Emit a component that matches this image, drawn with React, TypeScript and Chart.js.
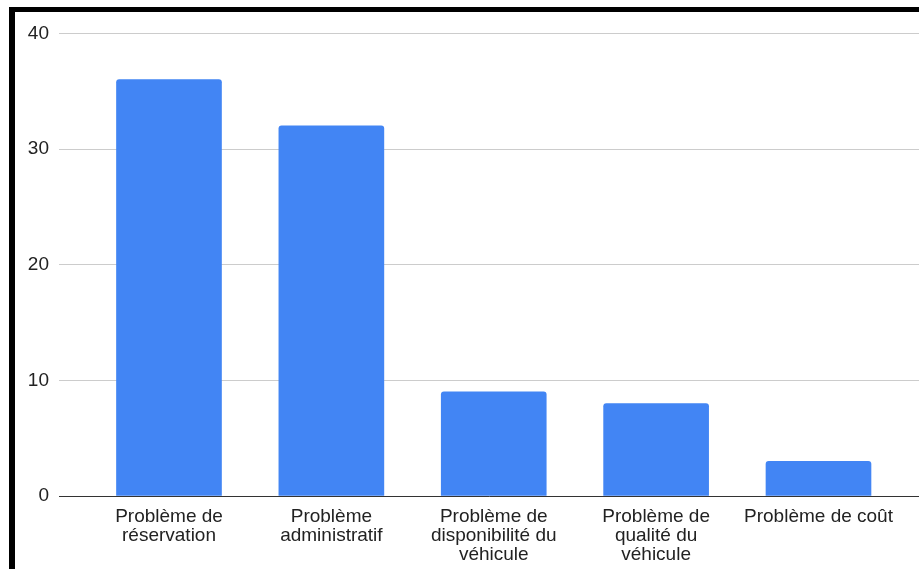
import { useEffect, useRef } from "react";
import { Chart, registerables } from "chart.js";

Chart.register(...registerables);

// Category labels (already split into lines as they are displayed)
const categories: string[][] = [
  ["Problème de", "réservation"],
  ["Problème", "administratif"],
  ["Problème de", "disponibilité du", "véhicule"],
  ["Problème de", "qualité du", "véhicule"],
  ["Problème de coût"],
];

// Number of reports per category
const counts: number[] = [36, 32, 9, 8, 3];

// Value axis range and step
const yMin = 0;
const yMax = 40;
const yStep = 10;

const FONT = '"Liberation Sans", Arial, sans-serif';
const BAR_BLUE = "#4285F4";
const TEXT = "#222222";

export default function App() {
  const canvasRef = useRef<HTMLCanvasElement | null>(null);

  useEffect(() => {
    const canvas = canvasRef.current;
    if (!canvas) return;

    const points = counts.map((v, i) => ({ x: i, y: v }));

    const chart = new Chart(canvas, {
      type: "bar",
      data: {
        datasets: [
          {
            data: points,
            backgroundColor: BAR_BLUE,
            borderWidth: 0,
            borderRadius: 3,
            borderSkipped: "start",
            barThickness: 105,
          },
        ],
      },
      options: {
        responsive: false,
        animation: false,
        devicePixelRatio: 1,
        layout: { padding: { top: 21, left: 0, right: 0, bottom: 0 } },
        plugins: {
          legend: { display: false },
          tooltip: { enabled: false },
        },
        scales: {
          x: {
            type: "linear",
            offset: false,
            min: -0.6774,
            max: 4.619,
            z: 1,
            grid: { display: false, drawTicks: false },
            border: { display: true, color: "#333333", width: 1 },
            ticks: {
              stepSize: 1,
              includeBounds: false,
              autoSkip: false,
              maxRotation: 0,
              minRotation: 0,
              padding: 11,
              color: TEXT,
              font: { family: FONT, size: 19, lineHeight: 1.0 },
              callback: (value: any) => {
                const v = Number(value);
                return Number.isInteger(v) && categories[v] ? categories[v] : "";
              },
            },
            afterFit: (scale: any) => {
              scale.height = 73;
            },
          },
          y: {
            min: yMin,
            max: yMax,
            grid: {
              drawTicks: false,
              color: "#cccccc",
              lineWidth: 1,
            },
            border: { display: false },
            ticks: {
              stepSize: yStep,
              padding: 10,
              color: TEXT,
              font: { family: FONT, size: 19 },
            },
            afterFit: (scale: any) => {
              scale.width = 44;
            },
          },
        },
      },
    });

    return () => chart.destroy();
  }, []);

  return (
    <div
      style={{
        position: "fixed",
        left: 9,
        top: 7,
        width: 910,
        height: 562,
        boxSizing: "border-box",
        borderTop: "5px solid #000",
        borderLeft: "6px solid #000",
        background: "#fff",
        overflow: "hidden",
      }}
    >
      <canvas ref={canvasRef} width={904} height={557} style={{ display: "block" }} />
    </div>
  );
}
